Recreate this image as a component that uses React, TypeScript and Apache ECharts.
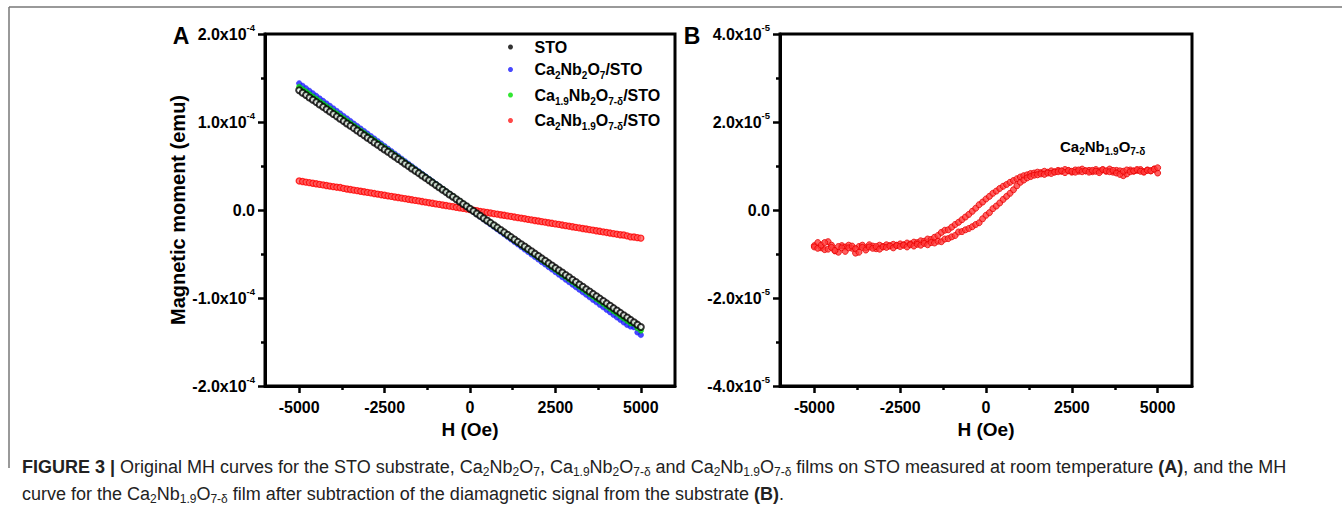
import React, { useEffect, useRef } from "react";
import * as echarts from "echarts";

// Field H (Oe), shared by all sweeps
const H = [
  -5000, -4900, -4800, -4700, -4600, -4500, -4400, -4300, -4200, -4100,
  -4000, -3900, -3800, -3700, -3600, -3500, -3400, -3300, -3200, -3100,
  -3000, -2900, -2800, -2700, -2600, -2500, -2400, -2300, -2200, -2100,
  -2000, -1900, -1800, -1700, -1600, -1500, -1400, -1300, -1200, -1100,
  -1000, -900, -800, -700, -600, -500, -400, -300, -200, -100,
  0, 100, 200, 300, 400, 500, 600, 700, 800, 900,
  1000, 1100, 1200, 1300, 1400, 1500, 1600, 1700, 1800, 1900,
  2000, 2100, 2200, 2300, 2400, 2500, 2600, 2700, 2800, 2900,
  3000, 3100, 3200, 3300, 3400, 3500, 3600, 3700, 3800, 3900,
  4000, 4100, 4200, 4300, 4400, 4500, 4600, 4700, 4800, 4900,
  5000,
];

// Panel A, magnetic moment in units of 1e-6 emu
const sto = [
  136.0, 133.3, 130.6, 127.9, 125.2, 122.6, 119.9, 117.2, 114.5, 111.8,
  109.1, 106.4, 103.7, 101.0, 98.3, 95.7, 93.0, 90.3, 87.6, 84.9,
  82.2, 79.5, 76.8, 74.1, 71.4, 68.8, 66.1, 63.4, 60.7, 58.0,
  55.3, 52.6, 49.9, 47.2, 44.5, 41.9, 39.2, 36.5, 33.8, 31.1,
  28.4, 25.7, 23.0, 20.3, 17.6, 15.0, 12.3, 9.6, 6.9, 4.2,
  1.5, -1.2, -3.9, -6.6, -9.3, -11.9, -14.6, -17.3, -20.0, -22.7,
  -25.4, -28.1, -30.8, -33.5, -36.2, -38.9, -41.5, -44.2, -46.9, -49.6,
  -52.3, -55.0, -57.7, -60.4, -63.1, -65.8, -68.4, -71.1, -73.8, -76.5,
  -79.2, -81.9, -84.6, -87.3, -90.0, -92.7, -95.3, -98.0, -100.7, -103.4,
  -106.1, -108.8, -111.5, -114.2, -116.9, -119.6, -122.2, -124.9, -127.6, -130.3,
  -133.0,
];
const cnoFilm = [
  144.0, 141.1, 138.3, 135.4, 132.6, 129.7, 126.8, 124.0, 121.1, 118.3,
  115.4, 112.5, 109.7, 106.8, 104.0, 101.1, 98.2, 95.4, 92.5, 89.7,
  86.8, 83.9, 81.1, 78.2, 75.4, 72.5, 69.6, 66.8, 63.9, 61.1,
  58.2, 55.3, 52.5, 49.6, 46.8, 43.9, 41.0, 38.2, 35.3, 32.5,
  29.6, 26.7, 23.9, 21.0, 18.2, 15.3, 12.4, 9.6, 6.7, 3.9,
  1.0, -1.9, -4.7, -7.6, -10.4, -13.3, -16.2, -19.0, -21.9, -24.7,
  -27.6, -30.5, -33.3, -36.2, -39.0, -41.9, -44.8, -47.6, -50.5, -53.3,
  -56.2, -59.1, -61.9, -64.8, -67.6, -70.5, -73.4, -76.2, -79.1, -81.9,
  -84.8, -87.7, -90.5, -93.4, -96.2, -99.1, -102.0, -104.8, -107.7, -110.5,
  -113.4, -116.3, -119.1, -122.0, -124.8, -127.7, -130.6, -132.4, -133.3, -139.1,
  -142.0,
];
const caDefFilm = [
  140.0, 137.2, 134.5, 131.7, 128.9, 126.2, 123.4, 120.6, 117.8, 115.1,
  112.3, 109.5, 106.8, 104.0, 101.2, 98.5, 95.7, 92.9, 90.1, 87.4,
  84.6, 81.8, 79.1, 76.3, 73.5, 70.8, 68.0, 65.2, 62.4, 59.7,
  56.9, 54.1, 51.4, 48.6, 45.8, 43.1, 40.3, 37.5, 34.7, 32.0,
  29.2, 26.4, 23.7, 20.9, 18.1, 15.4, 12.6, 9.8, 7.0, 4.3,
  1.5, -1.3, -4.0, -6.8, -9.6, -12.4, -15.1, -17.9, -20.7, -23.4,
  -26.2, -29.0, -31.7, -34.5, -37.3, -40.1, -42.8, -45.6, -48.4, -51.1,
  -53.9, -56.7, -59.4, -62.2, -65.0, -67.8, -70.5, -73.3, -76.1, -78.8,
  -81.6, -84.4, -87.1, -89.9, -92.7, -95.5, -98.2, -101.0, -103.8, -106.5,
  -109.3, -112.1, -114.8, -117.6, -120.4, -123.2, -125.9, -128.7, -129.5, -134.2,
  -137.0,
];
const nbDefFilm = [
  33.0, 32.4, 31.7, 31.1, 30.4, 29.8, 29.1, 28.5, 27.8, 27.2,
  26.5, 25.9, 25.6, 24.6, 23.9, 23.3, 22.6, 22.0, 21.3, 20.7,
  20.0, 19.4, 18.7, 18.1, 17.4, 16.8, 16.1, 15.5, 14.8, 14.2,
  13.5, 12.9, 12.2, 11.6, 10.9, 10.3, 9.6, 9.0, 8.3, 7.7,
  7.0, 6.4, 5.7, 5.1, 4.4, 3.8, 3.1, 2.5, 1.8, 1.2,
  0.5, -0.2, -0.8, -1.5, -2.1, -2.8, -3.4, -4.1, -4.7, -5.4,
  -6.0, -6.7, -7.3, -8.0, -8.6, -9.3, -9.9, -10.6, -11.2, -11.9,
  -12.5, -13.2, -13.8, -14.5, -15.1, -15.8, -16.4, -17.1, -17.7, -18.4,
  -19.0, -19.7, -20.3, -21.0, -21.6, -22.3, -22.9, -23.6, -24.2, -24.9,
  -25.5, -26.2, -26.8, -27.5, -28.1, -28.4, -29.4, -30.5, -30.7, -31.4,
  -32.0,
];

// Panel B, Ca2Nb1.9O7-δ after substrate subtraction (1e-6 emu)
const bDescending = [
  -8.1, -7.4, -8.6, -9.0, -7.2, -8.0, -9.3, -9.6, -8.1, -8.4,
  -8.0, -8.7, -9.8, -8.3, -8.0, -8.6, -7.9, -8.2, -8.8, -8.0,
  -8.3, -7.9, -8.1, -7.8, -8.0, -7.7, -7.9, -7.5, -7.7, -7.3,
  -7.4, -7.0, -7.1, -6.6, -6.7, -6.2, -5.8, -5.1, -4.6, -4.5,
  -3.9, -3.3, -2.8, -2.2, -1.6, -1.0, -0.3, 0.4, 1.2, 1.8,
  2.5, 3.1, 3.8, 4.3, 4.9, 5.4, 5.8, 6.3, 6.7, 7.1,
  7.5, 7.8, 8.0, 8.3, 8.4, 8.6, 8.5, 8.8, 8.6, 8.9,
  8.7, 9.0, 8.8, 9.2, 8.9, 8.6, 9.1, 8.8, 9.3, 8.9,
  9.0, 8.7, 9.2, 8.9, 9.1, 8.8, 9.3, 8.6, 9.0, 8.9,
  7.8, 8.2, 9.1, 8.8, 9.0, 9.2, 8.7, 9.1, 8.9, 9.3,
  8.4,
];
const bAscending = [
  -8.4, -8.7, -8.0, -7.4, -8.9, -8.5, -9.2, -8.3, -8.6, -9.4,
  -8.6, -8.2, -8.8, -9.6, -8.5, -9.1, -8.4, -8.7, -8.3, -8.9,
  -8.4, -8.5, -8.2, -8.6, -8.1, -8.3, -8.0, -8.4, -7.9, -8.2,
  -7.8, -8.0, -7.6, -7.9, -7.4, -7.5, -7.1, -7.2, -6.6, -6.5,
  -6.1, -5.8, -5.0, -4.9, -4.5, -4.2, -3.8, -3.3, -2.9, -2.0,
  -1.2, -0.6, 0.3, 0.9, 1.6, 2.4, 3.1, 3.8, 4.6, 5.5,
  6.3, 6.8, 7.3, 7.6, 7.9, 8.0, 8.2, 8.1, 8.4, 8.3,
  8.6, 8.7, 8.9, 8.5, 9.0, 8.8, 8.6, 9.1, 8.7, 8.9,
  8.6, 9.0, 8.8, 8.5, 9.2, 8.9, 8.7, 9.0, 8.4, 8.1,
  8.8, 9.1, 8.7, 8.9, 9.2, 8.8, 8.6, 9.0, 8.9, 9.3,
  9.6,
];

const xMajorTicks = [-5000, -2500, 0, 2500, 5000];
const xMinorTicks = [-3750, -1250, 1250, 3750];

const seriesNames = [
  "STO",
  "Ca2Nb2O7/STO",
  "Ca1.9Nb2O7-δ/STO",
  "Ca2Nb1.9O7-δ/STO",
];
const legendRich: Record<string, string> = {
  STO: "{n|STO}",
  "Ca2Nb2O7/STO": "{n|Ca}{s|2}{n|Nb}{s|2}{n|O}{s|7}{n|/STO}",
  "Ca1.9Nb2O7-δ/STO": "{n|Ca}{s|1.9}{n|Nb}{s|2}{n|O}{s|7-δ}{n|/STO}",
  "Ca2Nb1.9O7-δ/STO": "{n|Ca}{s|2}{n|Nb}{s|1.9}{n|O}{s|7-δ}{n|/STO}",
};
const seriesColors = ["#000000", "#1a1aff", "#00e000", "#ff1a1a"];

const FONT = "Arial, 'Liberation Sans', Helvetica, sans-serif";

export default function App() {
  const ref = useRef<HTMLDivElement>(null);
  useEffect(() => {
    if (!ref.current) return;
    const chart = echarts.init(ref.current, null, { renderer: "svg" });
    const zip = (ys: number[]) => H.map((h, i) => [h, ys[i]]);

    const yLabel = (div: number, exp: string) => (v: number) =>
      v === 0 ? "{m|0.0}" : `{m|${(v / div).toFixed(1)}x10}{s|${exp}}`;
    const yRich = {
      m: { fontSize: 16, fontWeight: "bold", fontFamily: FONT, color: "#000", lineHeight: 20 },
      s: { fontSize: 9.5, fontWeight: "bold", fontFamily: FONT, color: "#000", lineHeight: 20, padding: [0, 0, 13, 0] },
    };

    const axisLine = { show: true, onZero: false, lineStyle: { color: "#000", width: 3 } };
    const xName = {
      name: "H (Oe)",
      nameLocation: "middle" as const,
      nameGap: 29,
      nameTextStyle: { fontSize: 19, fontWeight: "bold", fontFamily: FONT, color: "#000" },
    };
    const xMain = (grid: number) => ({
      type: "value" as const,
      gridIndex: grid,
      position: "bottom" as const,
      min: -6000,
      max: 6000,
      axisLine,
      axisTick: { show: true, customValues: xMajorTicks, length: 7, lineStyle: { width: 2.5, color: "#000" } },
      axisLabel: {
        customValues: xMajorTicks,
        formatter: (v: number) => String(v),
        margin: 13,
        fontSize: 16,
        fontWeight: "bold",
        fontFamily: FONT,
        color: "#000",
      },
      splitLine: { show: false },
      ...xName,
    });
    const xMinor = (grid: number) => ({
      type: "value" as const,
      gridIndex: grid,
      position: "bottom" as const,
      min: -6000,
      max: 6000,
      axisLine: { show: false, onZero: false },
      axisTick: { show: true, customValues: xMinorTicks, length: 4, lineStyle: { width: 2.5, color: "#000" } },
      axisLabel: { show: false },
      splitLine: { show: false },
    });
    const yAx = (grid: number, lim: number, step: number, div: number, exp: string, name?: string) => ({
      type: "value" as const,
      gridIndex: grid,
      min: -lim,
      max: lim,
      interval: step,
      axisLine,
      axisTick: { show: true, length: 7, lineStyle: { width: 2.5, color: "#000" } },
      minorTick: { show: true, splitNumber: 2, length: 4, lineStyle: { width: 2.5, color: "#000" } },
      axisLabel: { margin: 10, formatter: yLabel(div, exp), rich: yRich },
      splitLine: { show: false },
      minorSplitLine: { show: false },
      ...(name
        ? {
            name,
            nameLocation: "middle" as const,
            nameGap: 77,
            nameTextStyle: { fontSize: 20, fontWeight: "bold", fontFamily: FONT, color: "#000" },
          }
        : {}),
    });

    const subRich = (main: number, sub: number, shift: number, color = "#000", weight = "bold") => ({
      n: { fontSize: main, fontWeight: weight, fontFamily: FONT, color, lineHeight: 22 },
      s: { fontSize: sub, fontWeight: weight, fontFamily: FONT, color, lineHeight: 22, padding: [shift, 0, 0, 0] },
    });

    const sym = (i: number) => {
      if (i === 0) return { color: "#ffffff", borderColor: "#000", borderWidth: 2 };
      if (i === 3) return { color: "#ff5a5a", borderColor: "#ff0000", borderWidth: 1.3 };
      return { color: seriesColors[i], borderColor: seriesColors[i], borderWidth: 0.5 };
    };
    const aData = [sto, cnoFilm, caDefFilm, nbDefFilm];
    const drawOrder = [3, 1, 2, 0];

    const captionRich = {
      b: { fontSize: 18, fontWeight: "bold", fontFamily: FONT, color: "#222" },
      s: { fontSize: 12, fontFamily: FONT, color: "#222", padding: [10, 0, 0, 0] },
    };

    chart.setOption({
      animation: false,
      backgroundColor: "#fff",
      grid: [
        { left: 265, top: 34, width: 410, height: 352, show: true, borderColor: "#000", borderWidth: 3 },
        { left: 780, top: 34, width: 412, height: 352, show: true, borderColor: "#000", borderWidth: 3 },
      ],
      xAxis: [xMain(0), xMinor(0), xMain(1), xMinor(1)],
      yAxis: [yAx(0, 200, 100, 100, "-4", "Magnetic moment (emu)"), yAx(1, 40, 20, 10, "-5")],
      legend: {
        orient: "vertical",
        left: 503,
        top: 34,
        itemWidth: 38,
        itemHeight: 5,
        itemGap: 3.5,
        icon: "circle",
        data: seriesNames.map((n, i) => ({
          name: n,
          itemStyle: { color: seriesColors[i], borderWidth: 0 },
        })),
        formatter: (n: string) => legendRich[n],
        textStyle: { rich: subRich(16, 10, 12) },
      },
      series: [
        ...drawOrder.map((i) => ({
          name: seriesNames[i],
          type: "scatter",
          xAxisIndex: 0,
          yAxisIndex: 0,
          symbol: "circle",
          symbolSize: i === 0 || i === 3 ? 6 : 5.5,
          itemStyle: sym(i),
          data: zip(aData[i]),
        })),
        {
          name: "Ca2Nb1.9O7-δ descending",
          type: "scatter",
          xAxisIndex: 2,
          yAxisIndex: 1,
          symbol: "circle",
          symbolSize: 6,
          itemStyle: { color: "#ff3a3a", borderColor: "#e80000", borderWidth: 1 },
          data: zip(bDescending),
        },
        {
          name: "Ca2Nb1.9O7-δ ascending",
          type: "scatter",
          xAxisIndex: 2,
          yAxisIndex: 1,
          symbol: "circle",
          symbolSize: 6,
          itemStyle: { color: "#ff3a3a", borderColor: "#e80000", borderWidth: 1 },
          data: zip(bAscending),
        },
      ],
      graphic: [
        { type: "line", shape: { x1: 9, y1: 7, x2: 1342, y2: 7 }, style: { stroke: "#777", lineWidth: 1.5 } },
        { type: "line", shape: { x1: 9, y1: 7, x2: 9, y2: 468 }, style: { stroke: "#777", lineWidth: 1.5 } },
        {
          type: "text",
          x: 181,
          y: 36,
          style: { text: "A", fontSize: 23, fontWeight: "bold", fontFamily: FONT, fill: "#000", align: "center", verticalAlign: "middle" },
        },
        {
          type: "text",
          x: 692,
          y: 36,
          style: { text: "B", fontSize: 23, fontWeight: "bold", fontFamily: FONT, fill: "#000", align: "center", verticalAlign: "middle" },
        },
        {
          type: "text",
          x: 1060,
          y: 146,
          style: {
            text: "{n|Ca}{s|2}{n|Nb}{s|1.9}{n|O}{s|7-δ}",
            align: "left",
            verticalAlign: "middle",
            rich: subRich(15, 10, 11),
          },
        },
        {
          type: "text",
          x: 22,
          y: 467,
          style: {
            text:
              "{b|FIGURE 3 |} Original MH curves for the STO substrate, Ca{s|2}Nb{s|2}O{s|7}, Ca{s|1.9}Nb{s|2}O{s|7-δ} and Ca{s|2}Nb{s|1.9}O{s|7-δ} films on STO measured at room temperature {b|(A)}, and the MH",
            fontSize: 18,
            fontFamily: FONT,
            fill: "#222",
            align: "left",
            verticalAlign: "middle",
            rich: captionRich,
          },
        },
        {
          type: "text",
          x: 22,
          y: 494,
          style: {
            text: "curve for the Ca{s|2}Nb{s|1.9}O{s|7-δ} film after subtraction of the diamagnetic signal from the substrate {b|(B)}.",
            fontSize: 18,
            fontFamily: FONT,
            fill: "#222",
            align: "left",
            verticalAlign: "middle",
            rich: captionRich,
          },
        },
      ],
    });
    return () => chart.dispose();
  }, []);
  return <div ref={ref} style={{ position: "fixed", left: 0, top: 0, width: 1342, height: 523 }} />;
}
